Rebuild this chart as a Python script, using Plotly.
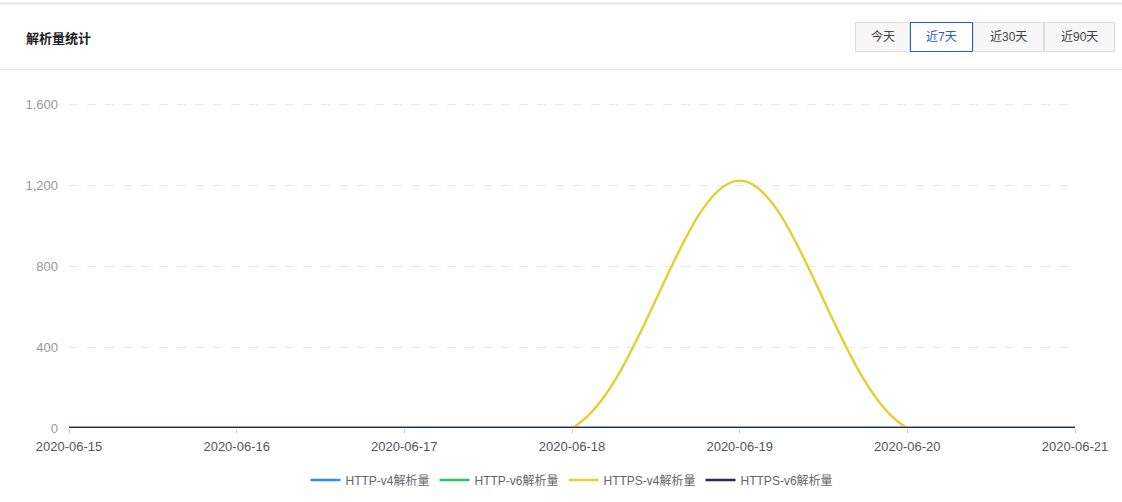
import plotly.graph_objects as go

dates = ["2020-06-15", "2020-06-16", "2020-06-17", "2020-06-18", "2020-06-19", "2020-06-20", "2020-06-21"]
http_v4 = [0, 0, 0, 0, 0, 0, 0]
http_v6 = [0, 0, 0, 0, 0, 0, 0]
https_v4 = [0, 0, 0, 0, 1224, 0, 0]
https_v6 = [0, 0, 0, 0, 0, 0, 0]
series_names = ["HTTP-v4解析量", "HTTP-v6解析量", "HTTPS-v4解析量", "HTTPS-v6解析量"]
series_colors = ["#2f8ff0", "#2bc55e", "#e2cf30", "#28285e"]
buttons = ["今天", "近7天", "近30天", "近90天"]
y_ticks = [0, 400, 800, 1200, 1600]

W, H = 1122, 502
L, R, T, B = 69, 47, 104, 74
PW, PH = W - L - R, H - T - B
FONT = "Liberation Sans, Noto Sans CJK SC, sans-serif"


def px(x):
    return (x - L) / PW


def py(y):
    return (H - B - y) / PH


fig = go.Figure()
for name, vals, col in zip(series_names, [http_v4, http_v6, https_v4, https_v6], series_colors):
    fig.add_trace(go.Scatter(
        x=dates, y=vals, name=name, mode="lines",
        line=dict(color=col, width=2.4, shape="spline", smoothing=1.0),
        hoverinfo="x+y+name",
    ))

shapes = []
annotations = []
# top gridline (edge gridline)
shapes.append(dict(type="line", xref="paper", yref="y", x0=0, x1=1, y0=y_ticks[-1], y1=y_ticks[-1],
                   line=dict(color="#e8e8e8", width=1, dash="dash"), layer="below"))
# card lines
shapes.append(dict(type="line", xref="paper", yref="paper", x0=px(0), x1=px(W), y0=py(3.5), y1=py(3.5),
                   line=dict(color="#e4e8e8", width=2), layer="above"))
shapes.append(dict(type="line", xref="paper", yref="paper", x0=px(0), x1=px(W), y0=py(69.5), y1=py(69.5),
                   line=dict(color="#e8e8e8", width=1), layer="above"))
annotations.append(dict(text="<b>解析量统计</b>", xref="paper", yref="paper", x=px(24), y=py(38),
                        xanchor="left", yanchor="middle", showarrow=False,
                        font=dict(size=13, color="#222", family=FONT)))

# buttons
bx = [855, 910, 973, 1044, 1115]
for i, lab in enumerate(buttons):
    sel = (i == 1)
    shapes.append(dict(type="rect", xref="paper", yref="paper",
                       x0=px(bx[i] + 0.5), x1=px(bx[i + 1] - 0.5), y0=py(22.5), y1=py(51.5),
                       fillcolor="#ffffff" if sel else "#f7f7f7",
                       line=dict(color="#1c64c4" if sel else "#dddddd", width=1), layer="above"))
    annotations.append(dict(text=lab, xref="paper", yref="paper", x=px((bx[i] + bx[i + 1]) / 2), y=py(37),
                            xanchor="center", yanchor="middle", showarrow=False,
                            font=dict(size=12, color="#1c64c4" if sel else "#444", family=FONT)))
shapes.append(dict(type="rect", xref="paper", yref="paper",
                   x0=px(bx[1] + 0.5), x1=px(bx[2] - 0.5), y0=py(22.5), y1=py(51.5),
                   line=dict(color="#1c64c4", width=1), layer="above"))

fig.update_layout(
    width=W, height=H,
    margin=dict(l=L, r=R, t=T, b=B, pad=0, autoexpand=False),
    paper_bgcolor="white", plot_bgcolor="white",
    font=dict(family=FONT, size=12, color="#666"),
    showlegend=True,
    legend=dict(orientation="h", x=0.5, xanchor="center", y=py(480), yanchor="middle",
                font=dict(size=12, color="#666"), itemwidth=30, bgcolor="rgba(0,0,0,0)"),
    xaxis=dict(type="date", range=["2020-06-15", "2020-06-21"], tickvals=dates, ticktext=dates,
               showgrid=False, zeroline=False, showline=False, automargin=False,
               ticks="outside", ticklen=4, tickcolor="#c8cde0", tickwidth=1,
               tickfont=dict(size=13, color="#555"), ticklabelstandoff=2),
    yaxis=dict(range=[0, 1603], tickvals=y_ticks, tickformat=",",
               showgrid=True, gridcolor="#e8e8e8", griddash="dash", gridwidth=1,
               zeroline=False, showline=False, ticks="", automargin=False,
               tickfont=dict(size=13, color="#999"), ticklabelstandoff=10),
    shapes=shapes, annotations=annotations,
)

fig.write_html("out.html", config={"displayModeBar": False},
               post_script="document.body.style.margin='0';document.body.style.padding='0';")
